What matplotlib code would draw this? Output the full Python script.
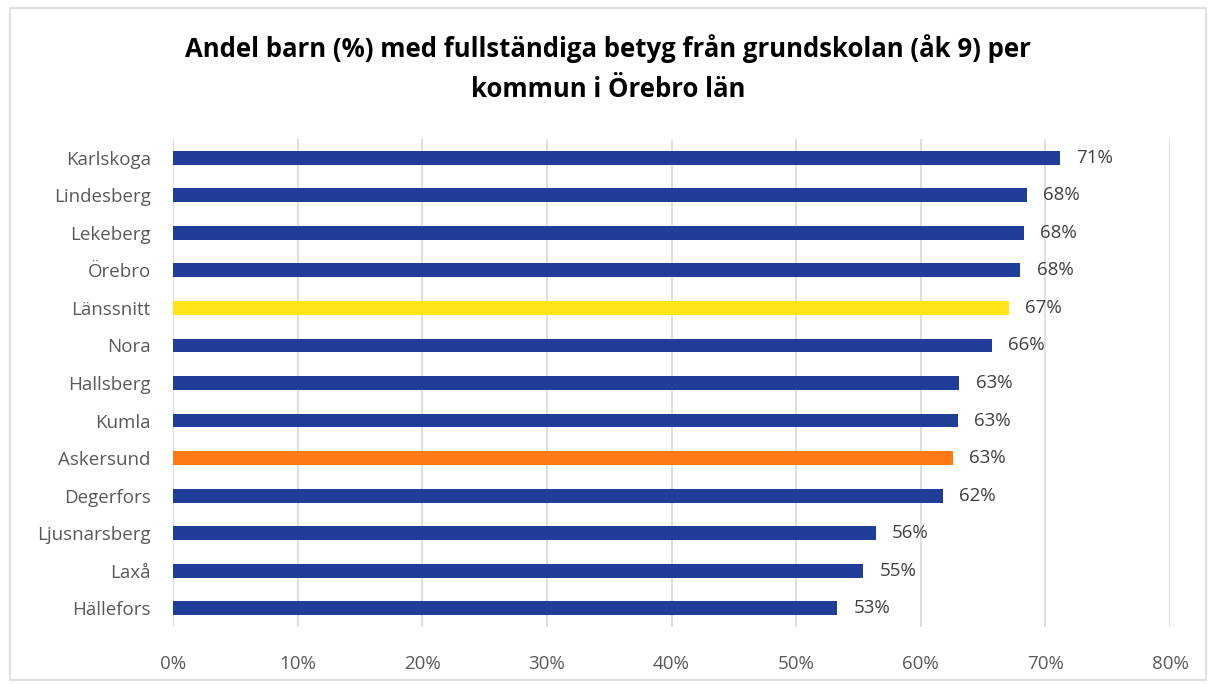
import matplotlib.pyplot as plt
from matplotlib.patches import Rectangle

kommuner = ['Karlskoga', 'Lindesberg', 'Lekeberg', 'Örebro', 'Länssnitt', 'Nora',
            'Hallsberg', 'Kumla', 'Askersund', 'Degerfors', 'Ljusnarsberg', 'Laxå', 'Hällefors']
andel = [71.2, 68.5, 68.3, 68.0, 67.1, 65.7, 63.1, 63.0, 62.6, 61.8, 56.4, 55.4, 53.3]
farger = ['#1f3d99'] * 4 + ['#ffe619'] + ['#1f3d99'] * 3 + ['#ff7a14'] + ['#1f3d99'] * 4
ticks = [0, 10, 20, 30, 40, 50, 60, 70, 80]

plt.rcParams['font.family'] = ['Open Sans', 'DejaVu Sans']

fig = plt.figure(figsize=(12.16, 6.84), dpi=100)
ax = fig.add_axes([0.1423, 0.0833, 0.8199, 0.7135])

y = list(range(len(kommuner)))
ax.barh(y, andel, height=0.37, color=farger, zorder=3)
for yi, v in zip(y, andel):
    ax.text(v + 1.3, yi, f'{round(v)}%', va='center', ha='left', fontsize=13.5, color='#404040')

ax.set_ylim(len(kommuner) - 0.5, -0.5)
ax.set_xlim(0, 80)
ax.set_yticks(y)
ax.set_yticklabels(kommuner, fontsize=13.5, color='#595959')
ax.set_xticks(ticks)
ax.set_xticklabels([f'{t}%' for t in ticks], fontsize=13.5, color='#595959')
ax.tick_params(length=0)
ax.tick_params(axis='y', pad=16)
ax.tick_params(axis='x', pad=20)
ax.grid(axis='x', color='#d9d9d9', linewidth=1.2, zorder=0)
for s in ax.spines.values():
    s.set_visible(False)

fig.text(0.5, 0.90, 'Andel barn (%) med fullständiga betyg från grundskolan (åk 9) per\nkommun i Örebro län',
         ha='center', va='center', fontsize=18.5, fontweight='bold', linespacing=1.6)

fig.patches.append(Rectangle((0.008, 0.006), 0.984, 0.982, transform=fig.transFigure,
                             fill=False, edgecolor='#d9d9d9', linewidth=1.2))

fig.savefig('out.png', dpi=100)
